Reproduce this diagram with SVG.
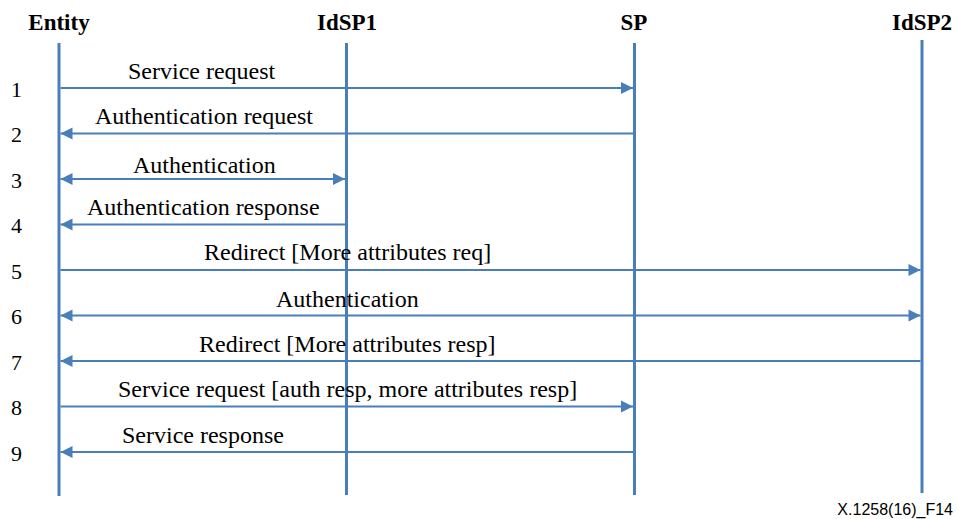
<svg xmlns="http://www.w3.org/2000/svg" width="957" height="519" viewBox="0 0 957 519">
  <style>
    .head { font-family: "Liberation Serif", "Times New Roman", serif; font-weight: bold; font-size: 23px; fill: #000; text-anchor: middle; }
    .num { font-family: "Liberation Serif", "Times New Roman", serif; font-size: 22px; fill: #000; }
    .lbl { font-family: "Liberation Serif", "Times New Roman", serif; font-size: 24px; fill: #000; }
    .foot { font-family: "Liberation Sans", Arial, sans-serif; font-size: 16px; fill: #000; text-anchor: end; }
    .life { stroke: #4a7ebb; stroke-width: 3; fill: none; }
    .msg { stroke: #4a7ebb; stroke-width: 1.8; fill: none; }
  </style>
  <defs>
    <marker id="arrowEnd" markerUnits="userSpaceOnUse" markerWidth="13" markerHeight="13" viewBox="0 0 13 13" refX="12.5" refY="6.5" orient="auto">
      <path d="M0.5,0.5 L12.5,6.5 L0.5,12.5 Z" fill="#4a7ebb"/>
    </marker>
    <marker id="arrowStart" markerUnits="userSpaceOnUse" markerWidth="13" markerHeight="13" viewBox="0 0 13 13" refX="0.5" refY="6.5" orient="auto">
      <path d="M12.5,0.5 L0.5,6.5 L12.5,12.5 Z" fill="#4a7ebb"/>
    </marker>
  </defs>
  <rect width="957" height="519" fill="#fff"/>

  <!-- participants with their lifelines -->
  <g id="entity">
    <text class="head" x="59" y="30">Entity</text>
    <line class="life" x1="59" y1="43" x2="59" y2="496"/>
  </g>
  <g id="idsp1">
    <text class="head" x="347" y="30">IdSP1</text>
    <line class="life" x1="346.5" y1="43" x2="346.5" y2="495"/>
  </g>
  <g id="sp">
    <text class="head" x="634" y="30">SP</text>
    <line class="life" x1="634.5" y1="43" x2="634.5" y2="495"/>
  </g>
  <g id="idsp2">
    <text class="head" x="922" y="30">IdSP2</text>
    <line class="life" x1="922" y1="40" x2="922" y2="493"/>
  </g>

  <!-- step numbers -->
  <g id="steps">
    <text class="num" x="11" y="97">1</text>
    <text class="num" x="11" y="142">2</text>
    <text class="num" x="11" y="188">3</text>
    <text class="num" x="11" y="233">4</text>
    <text class="num" x="11" y="279">5</text>
    <text class="num" x="11" y="324">6</text>
    <text class="num" x="11" y="370">7</text>
    <text class="num" x="11" y="415">8</text>
    <text class="num" x="11" y="461">9</text>
  </g>

  <!-- messages -->
  <g id="connectors">
    <line class="msg" x1="60.5" y1="88" x2="633" y2="88" marker-end="url(#arrowEnd)"/>
    <line class="msg" x1="633" y1="133.5" x2="60.5" y2="133.5" marker-end="url(#arrowEnd)"/>
    <line class="msg" x1="60.5" y1="179" x2="345" y2="179" marker-start="url(#arrowStart)" marker-end="url(#arrowEnd)"/>
    <line class="msg" x1="345" y1="224.5" x2="60.5" y2="224.5" marker-end="url(#arrowEnd)"/>
    <line class="msg" x1="60.5" y1="270" x2="920.5" y2="270" marker-end="url(#arrowEnd)"/>
    <line class="msg" x1="60.5" y1="315.5" x2="920.5" y2="315.5" marker-start="url(#arrowStart)" marker-end="url(#arrowEnd)"/>
    <line class="msg" x1="920.5" y1="361" x2="60.5" y2="361" marker-end="url(#arrowEnd)"/>
    <line class="msg" x1="60.5" y1="406.5" x2="633" y2="406.5" marker-end="url(#arrowEnd)"/>
    <line class="msg" x1="633" y1="452" x2="60.5" y2="452" marker-end="url(#arrowEnd)"/>
  </g>

  <!-- message labels -->
  <g id="labels">
    <text class="lbl" x="128" y="79">Service request</text>
    <text class="lbl" x="95" y="124">Authentication request</text>
    <text class="lbl" x="133" y="173">Authentication</text>
    <text class="lbl" x="87" y="215">Authentication response</text>
    <text class="lbl" x="204" y="260">Redirect [More attributes req]</text>
    <text class="lbl" x="276" y="307">Authentication</text>
    <text class="lbl" x="199" y="352">Redirect [More attributes resp]</text>
    <text class="lbl" x="118" y="397">Service request [auth resp, more attributes resp]</text>
    <text class="lbl" x="122" y="443">Service response</text>
  </g>

  <text class="foot" x="953" y="515">X.1258(16)_F14</text>
</svg>
